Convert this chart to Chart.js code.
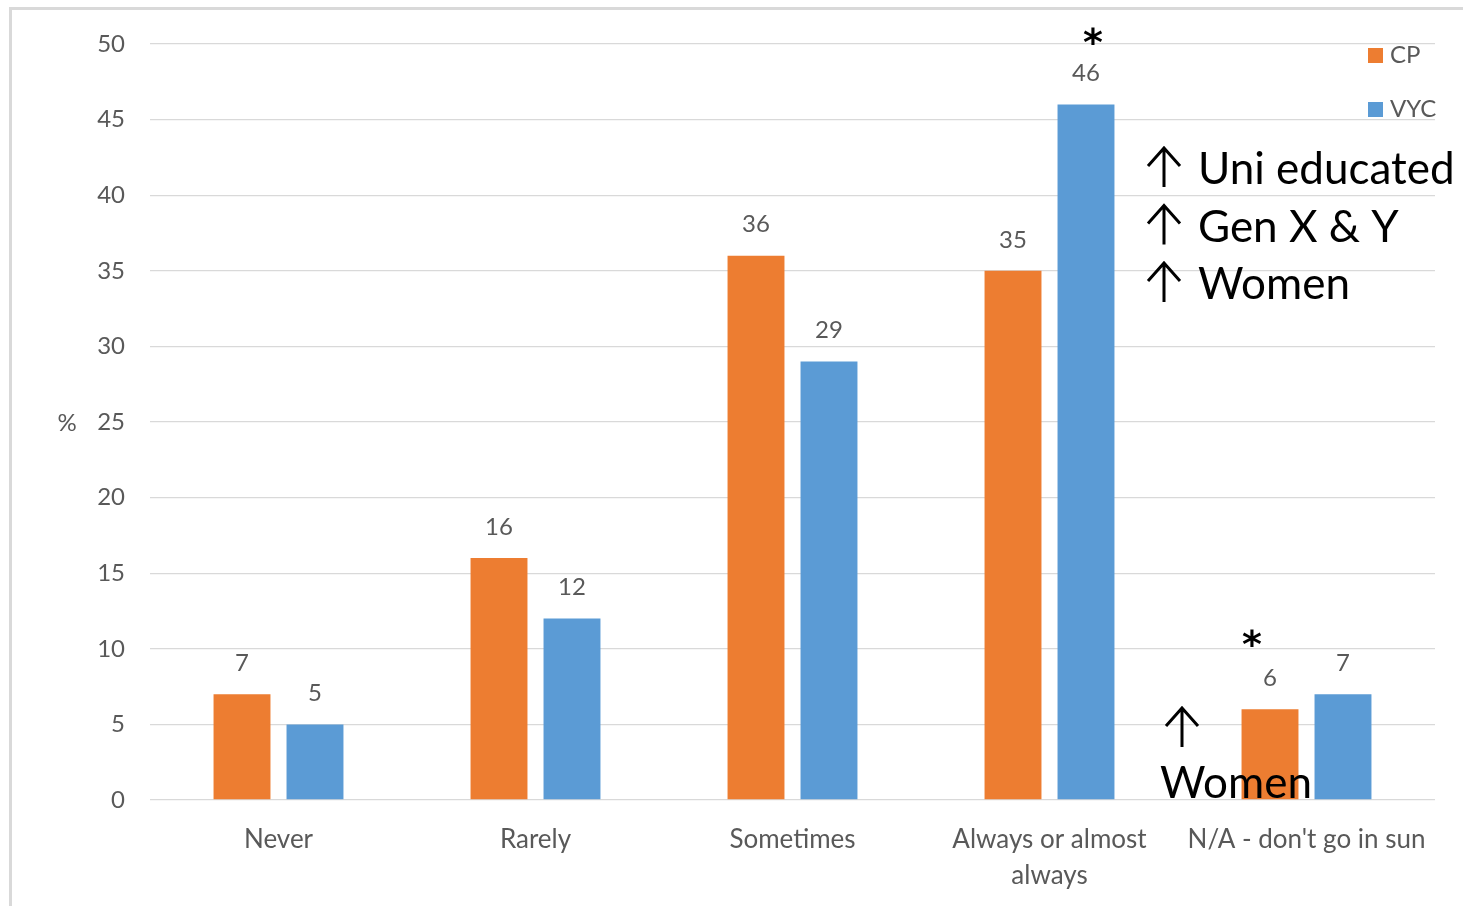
<!DOCTYPE html>
<html>
<head>
<meta charset="utf-8">
<script src="https://cdn.jsdelivr.net/npm/chart.js@4.4.0/dist/chart.umd.min.js"></script>
<style>
  html, body { margin: 0; padding: 0; background: #ffffff; }
  #wrap { position: relative; width: 1463px; height: 906px; overflow: hidden; }
  #frame { position: absolute; left: 9px; top: 7px; width: 1500px; height: 1000px;
           border-top: 3px solid #d9d9d9; border-left: 3px solid #d9d9d9; box-sizing: border-box; }
  canvas { position: absolute; left: 0; top: 0; }
</style>
</head>
<body>
<div id="wrap">
  <div id="frame"></div>
  <canvas id="chart" width="1463" height="906"></canvas>
</div>
<script>
// Sun-exposure frequency, percent of respondents
const categories = ['Never', 'Rarely', 'Sometimes', ['Always or almost', 'always'], "N/A - don't go in sun"];
const cpValues  = [7, 16, 36, 35, 6];
const vycValues = [5, 12, 29, 46, 7];
const seriesNames = ['CP', 'VYC'];
const yTicks = [0, 5, 10, 15, 20, 25, 30, 35, 40, 45, 50];
const notes = ['Uni educated', 'Gen X & Y', 'Women'];

const ORANGE = '#ED7D31';
const BLUE = '#5B9BD5';
const GREY = '#595959';
const FONT = 'Lato, "DejaVu Sans", sans-serif';

// thin upward arrow: shaft from top to bottom, open head
function upArrow(ctx, x, top, bottom, half, headDrop) {
  ctx.beginPath();
  ctx.moveTo(x, bottom);
  ctx.lineTo(x, top);
  ctx.moveTo(x - half, top + headDrop);
  ctx.lineTo(x, top);
  ctx.lineTo(x + half, top + headDrop);
  ctx.stroke();
}

// Value labels, legend, axis unit and side notes
const overlay = {
  id: 'overlay',
  afterDatasetsDraw(chart) {
    const ctx = chart.ctx;
    const y = chart.scales.y;
    ctx.save();

    // values above bars
    ctx.font = '24px ' + FONT;
    ctx.fillStyle = GREY;
    ctx.textAlign = 'center';
    ctx.textBaseline = 'middle';
    chart.data.datasets.forEach((ds, di) => {
      chart.getDatasetMeta(di).data.forEach((bar, i) => {
        ctx.fillText(String(ds.data[i]), bar.x, bar.y - 31);
      });
    });

    // unit label beside the value axis
    ctx.fillText('%', 67, y.getPixelForValue(25) + 1);

    // legend, stacked at the top right
    ctx.textAlign = 'left';
    chart.data.datasets.forEach((ds, di) => {
      const cy = 55 + di * 54;
      ctx.fillStyle = ds.backgroundColor;
      ctx.fillRect(1368, cy - 7, 15, 15);
      ctx.fillStyle = GREY;
      ctx.fillText(ds.label, 1390, cy);
    });

    // significance marks
    ctx.fillStyle = '#000000';
    ctx.textBaseline = 'alphabetic';
    const vycMeta = chart.getDatasetMeta(1).data;
    const cpMeta = chart.getDatasetMeta(0).data;
    ctx.font = 'bold 38px "DejaVu Sans"';
    ctx.textAlign = 'center';
    ctx.fillText('*', vycMeta[3].x + 7, 55);
    ctx.fillText('*', cpMeta[4].x - 18, 657);

    // notes with arrows
    ctx.strokeStyle = '#000000';
    ctx.lineWidth = 3;
    ctx.lineCap = 'butt';
    ctx.lineJoin = 'miter';
    ctx.textAlign = 'left';
    ctx.font = '44px ' + FONT;
    notes.forEach((t, k) => {
      const base = 184 + k * 57.5;
      upArrow(ctx, 1164, base - 36, base + 3, 16, 18);
      ctx.fillText(t, 1198, base);
    });
    upArrow(ctx, 1182, 708, 747, 16, 18);
    ctx.fillText('Women', 1160, 798);

    ctx.restore();
  }
};

new Chart(document.getElementById('chart'), {
  type: 'bar',
  data: {
    labels: categories,
    datasets: [
      { label: seriesNames[0], data: cpValues, backgroundColor: ORANGE },
      { label: seriesNames[1], data: vycValues, backgroundColor: BLUE }
    ]
  },
  options: {
    responsive: false,
    animation: false,
    devicePixelRatio: 1,
    layout: { padding: { left: 0, right: 28, top: 44, bottom: 0 } },
    categoryPercentage: 0.568,
    barPercentage: 0.78,
    plugins: { legend: { display: false }, tooltip: { enabled: false } },
    scales: {
      x: {
        grid: { display: false, drawTicks: false },
        border: { display: false },
        ticks: { color: GREY, font: { family: FONT, size: 26, lineHeight: 1.4 }, padding: 21, maxRotation: 0, autoSkip: false },
        afterFit(s) { s.height = 106; }
      },
      y: {
        min: 0, max: 50,
        afterBuildTicks(s) { s.ticks = yTicks.map(v => ({ value: v })); },
        grid: { color: '#d9d9d9', lineWidth: 1.3, drawTicks: false },
        border: { display: false },
        ticks: { color: GREY, font: { family: FONT, size: 24 }, padding: 25 },
        afterFit(s) { s.width = 150; }
      }
    }
  },
  plugins: [overlay]
});
</script>
</body>
</html>
